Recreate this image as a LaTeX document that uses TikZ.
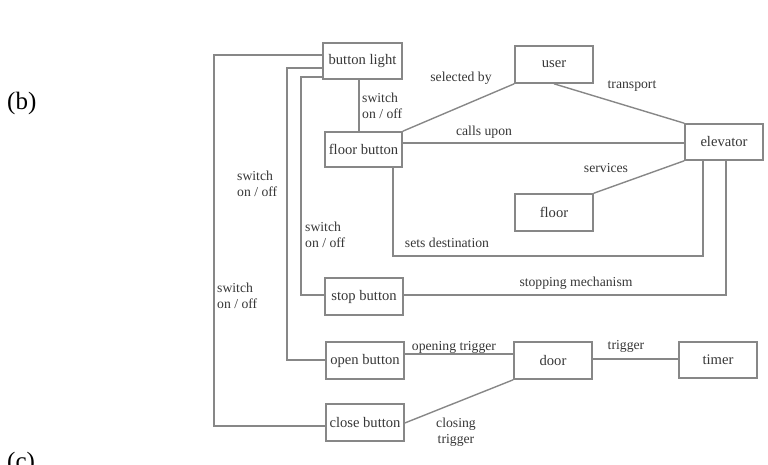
\documentclass[tikz,border=0pt]{standalone}
\usepackage{fontspec}
\setmainfont{Liberation Serif}
\usetikzlibrary{calc}
\definecolor{edge}{RGB}{135,135,135}
\definecolor{ink}{RGB}{55,55,55}
\begin{document}
\begin{tikzpicture}[x=1pt,y=-1pt,
  entity/.style={draw=edge, line width=1.6pt, fill=white, inner sep=0pt,
    minimum width=78pt, minimum height=37pt, text=ink,
    font=\fontsize{14.6}{16}\selectfont},
  link/.style={draw=edge, line width=1.4pt},
  lbl/.style={text=ink, inner sep=0pt, font=\fontsize{13.7}{16}\selectfont},
  lbl2/.style={lbl, align=left, anchor=north west},
  caption/.style={text=black, inner sep=0pt, font=\fontsize{25}{27}\selectfont}]
\clip (0,0) rectangle (768,464);
\useasboundingbox (0,0) rectangle (768,464);

% entities
\node[entity, minimum width=79pt, minimum height=36pt] (bl) at (362.5,61) {button light};
\node[entity, minimum width=77pt, minimum height=35pt] (fb) at (363.5,149.5) {floor button};
\node[entity] (user) at (554,64.5) {user};
\node[entity, minimum height=36pt] (elev) at (724,142) {elevator};
\node[entity] (floor) at (554,212.5) {floor};
\node[entity] (stop) at (364,296.5) {stop button};
\node[entity] (open) at (365,360.5) {open button};
\node[entity] (close) at (365,422.5) {close button};
\node[entity] (door) at (553,360.5) {door};
\node[entity, minimum height=36pt] (timer) at (718,360) {timer};

% switch lines from the button light to the buttons
\draw[link] (bl.west |- 0,55) -| (214,426) -- (close.west |- 0,426);
\draw[link] (bl.west |- 0,68) -| (287,360) -- (open.west |- 0,360);
\draw[link] (bl.west |- 0,77) -| (301,295) -- (stop.west |- 0,295);
\draw[link] (bl.south -| 359,0) -- (fb.north -| 359,0);

% relations of the floor button, user and elevator
\draw[link] (fb.north east) -- (user.south west);
\draw[link] (fb.east |- 0,143) -- (elev.west |- 0,143);
\draw[link] (user.south) -- (elev.north west);
\draw[link] (elev.south west) -- (floor.north east);
\draw[link] (fb.south -| 393,0) |- (703,256) -- (elev.south -| 703,0);
\draw[link] (stop.east |- 0,295) -| (elev.south -| 726,0);

% door relations
\draw[link] (open.east |- 0,354) -- (door.west |- 0,354);
\draw[link] (close.east |- 0,423) -- (door.south west);
\draw[link] (door.east |- 0,359) -- (timer.west |- 0,359);

% relation labels
\node[lbl] (lsel) at (461,78) {selected by};
\node[lbl] (ltrans) at (632,86) {transport};
\node[lbl] (lcalls) at (484,132) {calls upon};
\node[lbl] (lserv) at (606,168) {services};
\node[lbl] (ldest) at (447,243) {sets destination};
\node[lbl] (lstopm) at (576,283) {stopping mechanism};
\node[lbl] (lopen) at (454,347) {opening trigger};
\node[lbl] (ltrig) at (626,346) {trigger};
\node[lbl, align=center] (lclose) at (456,432) {closing\\trigger};
\node[lbl2] (lsw1) at (362,93) {switch\\on / off};
\node[lbl2] (lsw2) at (237,171) {switch\\on / off};
\node[lbl2] (lsw3) at (305,222) {switch\\on / off};
\node[lbl2] (lsw4) at (217,283) {switch\\on / off};

% panel captions
\node[caption, anchor=west] (capb) at (7,103) {(b)};
\node[caption, anchor=north west] (capc) at (7,452) {(c)};
\end{tikzpicture}
\end{document}
